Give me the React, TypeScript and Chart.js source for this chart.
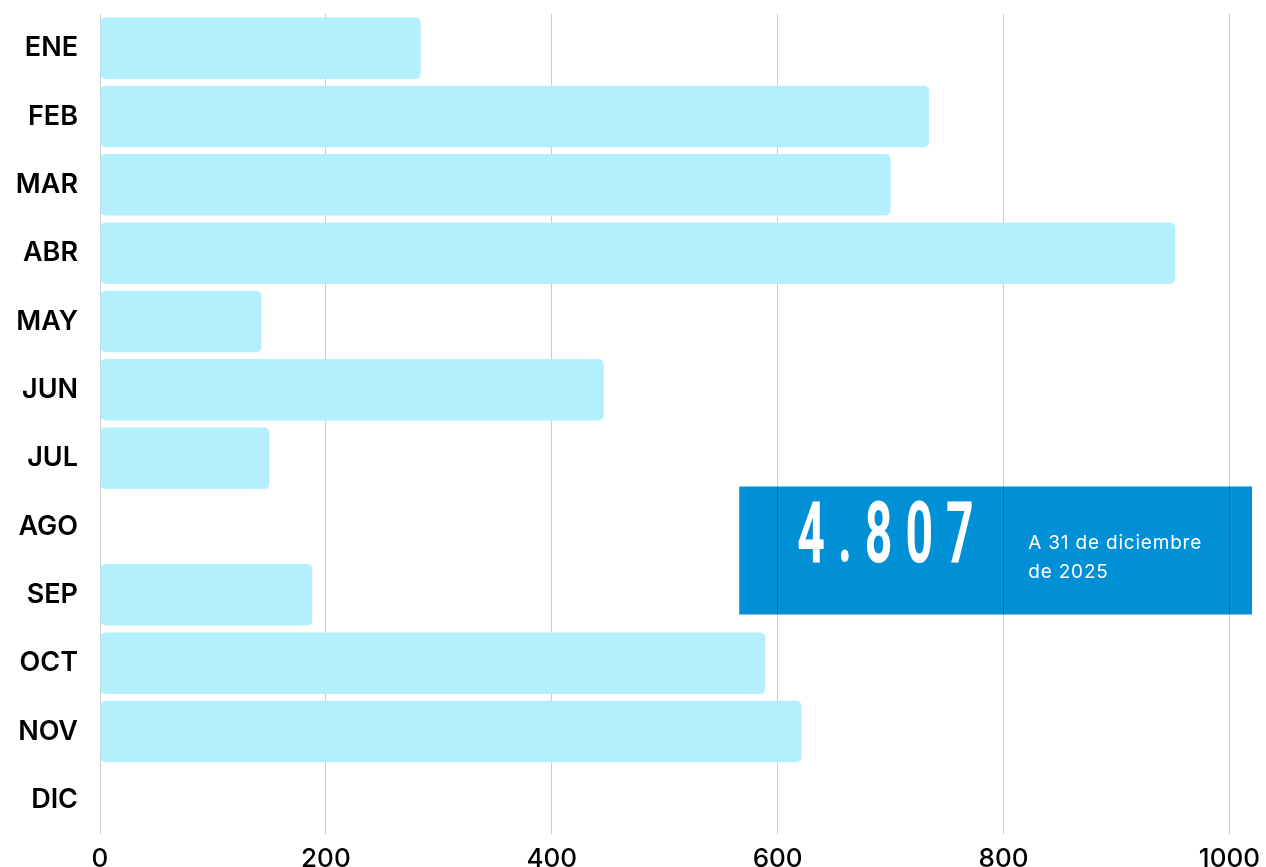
import React, { useEffect, useRef } from "react";
import { Chart, registerables } from "chart.js";

Chart.register(...registerables);

const months = ["ENE", "FEB", "MAR", "ABR", "MAY", "JUN", "JUL", "AGO", "SEP", "OCT", "NOV", "DIC"];
const values = [284, 734, 700, 952, 143, 446, 150, 0, 188, 589, 621, 0];
const xTicks = [0, 200, 400, 600, 800, 1000];
const totalLabel = "4.807";
const noteLines = ["A 31 de diciembre", "de 2025"];

const BAR_COLOR = "#B3EFFD";
const BOX_COLOR = "#0190D6";

const boxPlugin = {
  id: "totalBox",
  beforeDraw(chart: any) {
    const { ctx, chartArea, scales } = chart;
    const x = scales.x;
    const y = scales.y;
    const left = x.getPixelForValue(566);
    const right = chartArea.right;
    const c = y.getPixelForValue(7);
    const top = c - 40;
    const bottom = c + 88;
    ctx.save();
    ctx.fillStyle = BOX_COLOR;
    ctx.fillRect(left, top, right - left, bottom - top);
    ctx.restore();
    chart.$box = { left, top, right, bottom };
  },
  afterDraw(chart: any) {
    const { ctx } = chart;
    const b = chart.$box;
    if (!b) return;
    ctx.save();
    ctx.fillStyle = "#ffffff";
    ctx.font = "700 86px Roboto";
    ctx.textBaseline = "alphabetic";
    const sx = 0.56;
    let cx = b.left + 58;
    const base = b.top + 75;
    for (const ch of totalLabel) {
      ctx.save();
      ctx.translate(cx, base);
      ctx.scale(sx, 1);
      ctx.fillText(ch, 0, 0);
      ctx.restore();
      const w = ctx.measureText(ch).width * sx;
      cx += w + 13;
    }
    ctx.font = "400 19px Inter";
    try {
      (ctx as any).letterSpacing = "0.8px";
    } catch (e) {}
    ctx.fillText(noteLines[0], b.left + 289, b.top + 62);
    ctx.fillText(noteLines[1], b.left + 289, b.top + 91);
    ctx.restore();
  },
};

export default function App() {
  const ref = useRef<HTMLCanvasElement | null>(null);
  useEffect(() => {
    if (!ref.current) return;
    const chart = new Chart(ref.current, {
      type: "bar",
      data: {
        labels: months,
        datasets: [
          {
            data: values,
            backgroundColor: BAR_COLOR,
            borderRadius: 5,
            borderSkipped: false,
            barPercentage: 0.9,
            categoryPercentage: 1,
          },
        ],
      },
      options: {
        indexAxis: "y",
        animation: false,
        responsive: false,
        maintainAspectRatio: false,
        layout: { padding: { top: 14, right: 14, left: 0, bottom: 0 } },
        plugins: { legend: { display: false }, tooltip: { enabled: false } },
        scales: {
          x: {
            min: 0,
            max: 1020,
            afterBuildTicks(scale: any) {
              scale.ticks = xTicks.map((v) => ({ value: v }));
            },
            afterFit(scale: any) {
              scale.height = 44;
              scale.paddingLeft = 0;
              scale.paddingRight = 0;
            },
            grid: { color: "rgba(0,0,0,0.2)", lineWidth: 1, drawTicks: false },
            border: { display: false },
            ticks: {
              padding: 10,
              color: "#000",
              callback: (v: any) => String(v),
              font: { family: "Inter", size: 26, weight: "500" },
            },
          },
          y: {
            grid: { display: false, drawTicks: false },
            border: { display: false },
            afterFit(scale: any) {
              scale.width = 100;
              scale.paddingTop = 0;
              scale.paddingBottom = 0;
            },
            ticks: {
              padding: 22,
              color: "#000",
              font: { family: "Inter", size: 27, weight: "600" },
            },
          },
        },
      },
      plugins: [boxPlugin],
    } as any);
    return () => chart.destroy();
  }, []);
  return (
    <div style={{ position: "fixed", left: 0, top: 0, width: 1266, height: 867, overflow: "hidden", background: "#fff" }}>
      <canvas ref={ref} width={1266} height={878} style={{ width: 1266, height: 878, display: "block" }} />
    </div>
  );
}
